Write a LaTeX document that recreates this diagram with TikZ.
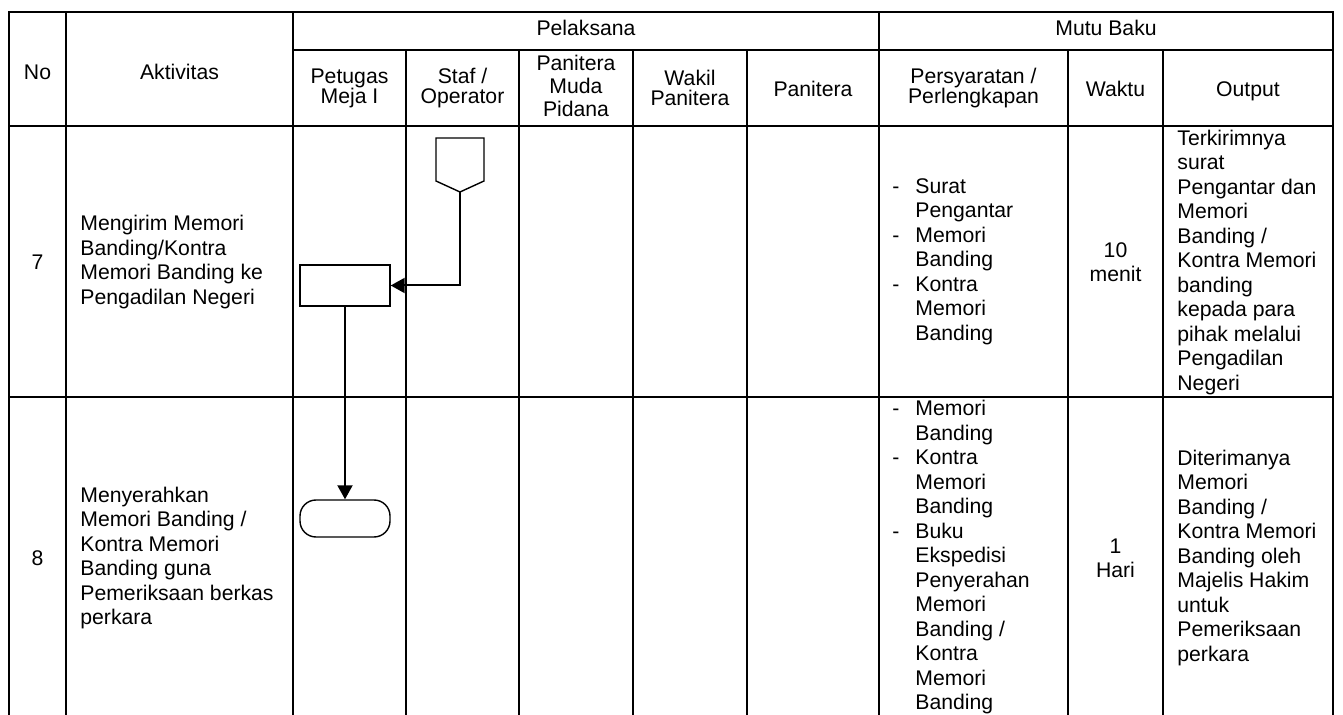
\documentclass[tikz,border=0pt]{standalone}
\usepackage{fontspec}
\setmainfont{Liberation Sans}
\usetikzlibrary{arrows.meta}

\begin{document}
\begin{tikzpicture}[x=0.5pt,y=-0.5pt,>={Triangle[length=7pt,width=7.5pt]},
  grid/.style={line width=0.85pt},
  head/.style={align=center,inner sep=0pt,font=\fontsize{10.6pt}{10pt}\selectfont},
  body/.style={align=left,inner sep=0pt,font=\fontsize{10.6pt}{12.25pt}\selectfont},
  procbox/.style={draw,line width=0.7pt,minimum width=45pt,minimum height=20.5pt,inner sep=0pt},
  termbox/.style={draw,line width=0.7pt,rounded corners=8pt,minimum width=45pt,minimum height=18.5pt,inner sep=0pt},
  flow/.style={->,line width=1pt}]
  \useasboundingbox (0,0) rectangle (1343,715);
  % table lines
  \draw[grid] (9,715) -- (9,12) -- (1333,12) -- (1333,715);
  \draw[grid] (66,12) -- (66,715);
  \draw[grid] (293,12) -- (293,715);
  \draw[grid] (879,12) -- (879,715);
  \draw[grid] (293,50) -- (1333,50);
  \draw[grid] (9,126) -- (1333,126);
  \draw[grid] (9,397) -- (1333,397);
  \draw[grid] (406,50) -- (406,715);
  \draw[grid] (519,50) -- (519,715);
  \draw[grid] (633,50) -- (633,715);
  \draw[grid] (747,50) -- (747,715);
  \draw[grid] (1068,50) -- (1068,715);
  \draw[grid] (1163,50) -- (1163,715);

  % header
  \node[head] (hno) at (37.5,72) {No};
  \node[head] (hakt) at (179.5,72) {Aktivitas};
  \node[head] (hpel) at (586,28) {Pelaksana};
  \node[head] (hmutu) at (1106,28) {Mutu Baku};
  \node[head] (hpetugas) at (349.5,88) {Petugas\\Meja I};
  \node[head] (hstaf) at (462.5,88) {Staf /\\Operator};
  \node[head,font=\fontsize{10.6pt}{11.5pt}\selectfont] (hpmp) at (576,86) {Panitera\\Muda\\Pidana};
  \node[head] (hwakil) at (690,88) {Wakil\\Panitera};
  \node[head] (hpanitera) at (813,89) {Panitera};
  \node[head] (hsyarat) at (973.5,88) {Persyaratan /\\Perlengkapan};
  \node[head] (hwaktu) at (1115.5,89) {Waktu};
  \node[head] (houtput) at (1248,91) {Output};

  % row 7
  \node[body] (no7) at (37.5,262) {7};
  \node[body,anchor=west] (akt7) at (80,262) {Mengirim Memori\\Banding/Kontra\\Memori Banding ke\\Pengadilan Negeri};
  \node[body,anchor=west] (syarat7) at (892,262) {\begin{tabular}{@{}l@{\hspace{8pt}}l@{}}
    - & Surat\\ & Pengantar\\
    - & Memori\\ & Banding\\
    - & Kontra\\ & Memori\\ & Banding
  \end{tabular}};
  \node[body,align=center] (waktu7) at (1115.5,262) {10\\menit};
  \node[body,anchor=west] (out7) at (1177,262.5) {Terkirimnya\\surat\\Pengantar dan\\Memori\\Banding /\\Kontra Memori\\banding\\kepada para\\pihak melalui\\Pengadilan\\Negeri};

  % row 8
  \node[body] (no8) at (37.5,558) {8};
  \node[body,anchor=west] (akt8) at (80,558) {Menyerahkan\\Memori Banding /\\Kontra Memori\\Banding guna\\Pemeriksaan berkas\\perkara};
  \node[body,anchor=west] (syarat8) at (892,558) {\begin{tabular}{@{}l@{\hspace{8pt}}l@{}}
    - & Memori\\ & Banding\\
    - & Kontra\\ & Memori\\ & Banding\\
    - & Buku\\ & Ekspedisi\\ & Penyerahan\\ & Memori\\ & Banding /\\ & Kontra\\ & Memori\\ & Banding
  \end{tabular}};
  \node[body,align=center] (waktu8) at (1115.5,558.5) {1\\Hari};
  \node[body,anchor=west] (out8) at (1177,558) {Diterimanya\\Memori\\Banding /\\Kontra Memori\\Banding oleh\\Majelis Hakim\\untuk\\Pemeriksaan\\perkara};

  % flow symbols
  \draw[line width=0.7pt] (436,138) -- (484,138) -- (484,181) -- (460,192) -- (436,181) -- cycle;
  \coordinate (ofpg) at (460,192);
  \node[procbox] (kirim) at (345,285.5) {};
  \node[termbox] (serah) at (345,518.5) {};
  \draw[flow] (ofpg) |- (kirim.east);
  \draw[flow] (kirim) -- (serah);
\end{tikzpicture}
\end{document}
